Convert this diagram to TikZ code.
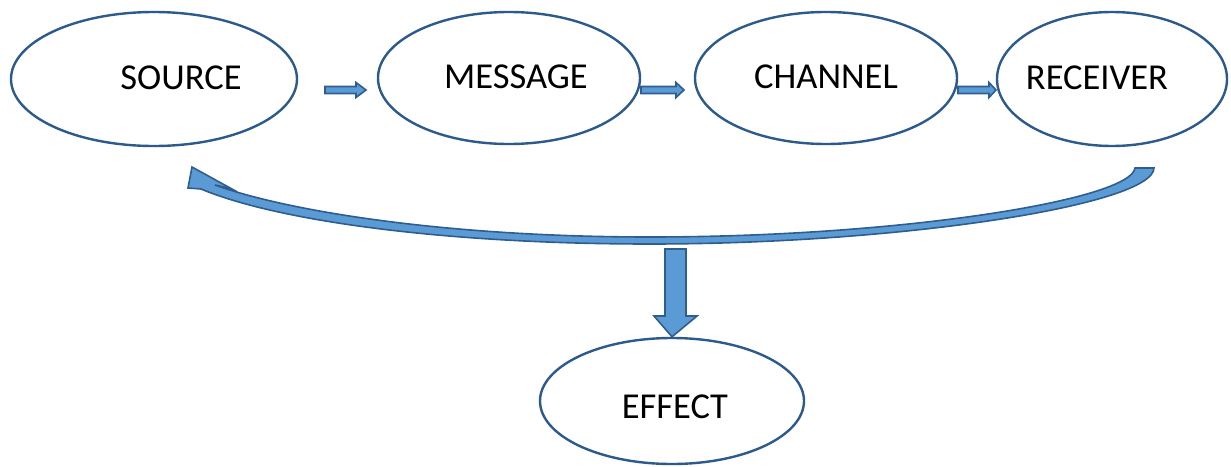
\documentclass[tikz,border=0pt]{standalone}
\usepackage{fontspec}
\setmainfont{Carlito}
\usetikzlibrary{shapes.geometric,calc}
\definecolor{edge}{HTML}{2C5A8C}
\definecolor{afill}{HTML}{5B9BD5}
\definecolor{aedge}{HTML}{2E5D8E}
\tikzset{
  oval/.style={ellipse, draw=edge, line width=2.4pt, fill=white, inner sep=0pt},
  lbl/.style={font=\fontsize{36.5}{40}\selectfont, text=black},
  blk/.style={fill=afill, draw=aedge, line width=1.6pt, line join=miter},
}
\newcommand\harr[3]{% from, to, head length
  \draw[blk] ($(#1)+(0,-3.5)$) -- ($(#2)+(-#3,-3.5)$) -- ($(#2)+(-#3,-7.5)$) -- (#2)
    -- ($(#2)+(-#3,7.5)$) -- ($(#2)+(-#3,3.5)$) -- ($(#1)+(0,3.5)$) -- cycle;}
\begin{document}
\begin{tikzpicture}[x=1pt,y=-1pt]
\useasboundingbox (0,0) rectangle (1231,466);
\node[oval, minimum width=286pt, minimum height=134pt, label={[lbl,xshift=27pt,yshift=1.5pt]center:SOURCE}] (src) at (154,79) {};
\node[oval, minimum width=262pt, minimum height=132pt, label={[lbl,xshift=7pt,yshift=1.5pt]center:MESSAGE}] (msg) at (509,78) {};
\node[oval, minimum width=262pt, minimum height=132pt, label={[lbl,yshift=1.5pt]center:CHANNEL}] (chn) at (826,78) {};
\node[oval, minimum width=230pt, minimum height=134pt, label={[lbl,xshift=-15pt,yshift=1.5pt]center:RECEIVER}] (rcv) at (1112,79) {};
\node[oval, minimum width=264pt, minimum height=126pt, label={[lbl,xshift=3pt,yshift=-6pt]center:EFFECT}] (eff) at (672,401) {};
% straight block arrows
\coordinate (a1s) at (325,90); \coordinate (a1e) at (366,90);
\coordinate (a2s) at (641,90); \coordinate (a2e) at (684,90);
\coordinate (a3s) at (958,90); \coordinate (a3e) at (996,90);
\harr{a1s}{a1e}{10}
\harr{a2s}{a2e}{8}
\harr{a3s}{a3e}{7}
% curved feedback arrow
\coordinate (fbs) at (1144,168);
\coordinate (fbe) at (192,167);
\draw[blk] ($(fbs)+(10,0)$) .. controls (1153,205) and (900,244) .. (650,244)
  .. controls (450,244) and (280,222) .. (201,189) -- (188,188) -- (fbe) -- (232,189)
  -- (215,185) .. controls (290,212) and (450,237) .. (650,237)
  .. controls (900,237) and (1131,200) .. ($(fbs)+(-9,0)$) -- cycle;
% down arrow
\coordinate (dns) at (675.5,249);
\draw[blk] ($(dns)+(-10.5,0)$) -- ($(dns)+(10.5,0)$) -- ($(dns)+(10.5,67)$) -- ($(dns)+(21.5,67)$)
  -- (eff.north) -- ($(dns)+(-21.5,67)$) -- ($(dns)+(-10.5,67)$) -- cycle;
\end{tikzpicture}
\end{document}
